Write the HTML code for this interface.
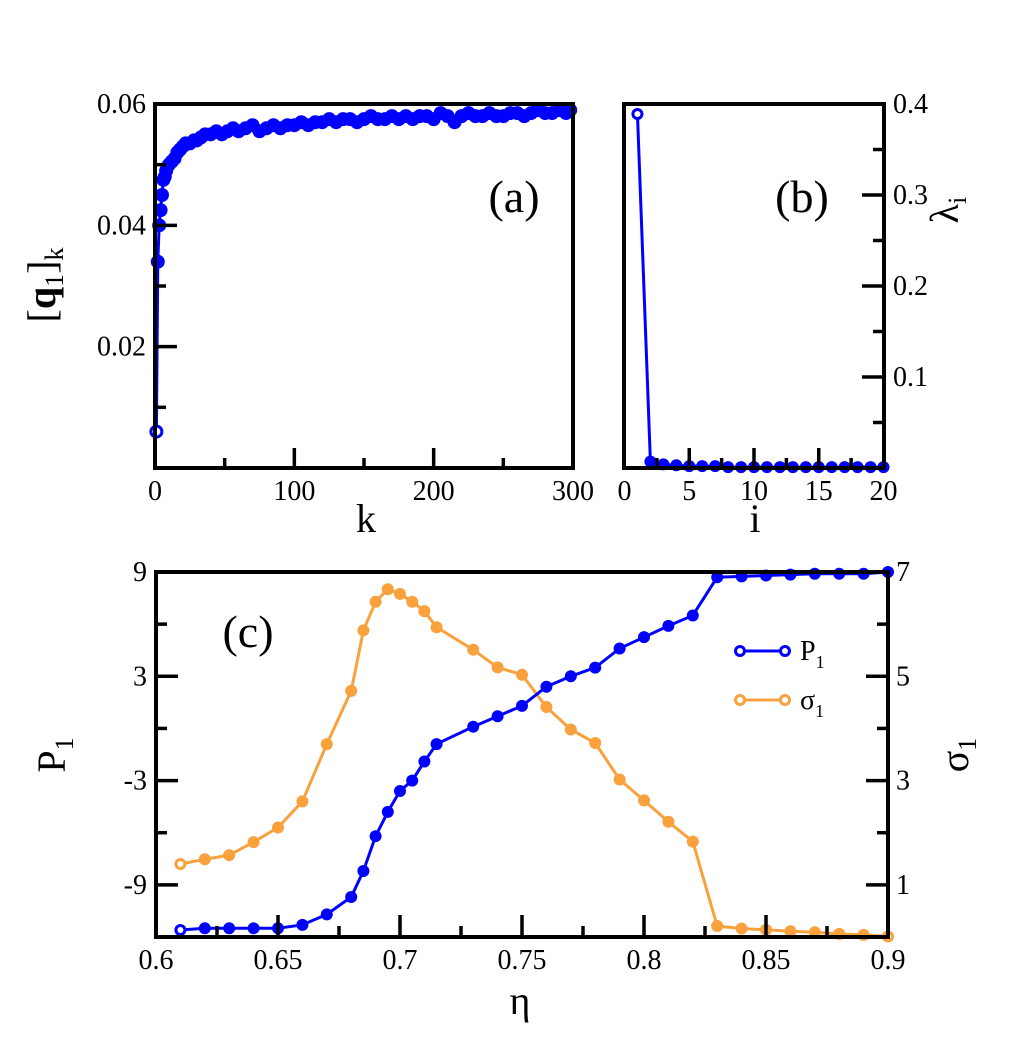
<!DOCTYPE html>
<html><head><meta charset="utf-8"><style>
body{margin:0;background:#fff}
svg{display:block;font-family:"Liberation Serif",serif}
</style></head><body>
<svg id="fig" width="1011" height="1050" viewBox="0 0 1011 1050"></svg>
<script>
// Panel (a) data
const aK=[1,2,3,4,5,6,7,8,10,12,14,16,18,20,22,25,28,30,33,36,40,44,48,52,56,60,65,70,75,80,85,90,95,100,105,110,115,120,125,130,135,140,145,150,155,160,165,170,175,180,185,190,195,200,205,210,215,220,225,230,235,240,245,250,255,260,265,270,275,280,285,290,295,298];
const aQ=[0.006,0.034,0.040,0.0425,0.045,0.0475,0.048,0.049,0.050,0.0505,0.051,0.052,0.0525,0.053,0.0535,0.0535,0.054,0.054,0.0545,0.055,0.055,0.0555,0.055,0.0555,0.056,0.0555,0.056,0.0565,0.0555,0.056,0.0565,0.056,0.0565,0.0565,0.057,0.0565,0.057,0.057,0.0575,0.057,0.0575,0.0575,0.057,0.0575,0.058,0.0575,0.0575,0.058,0.0575,0.058,0.0575,0.058,0.058,0.0575,0.0585,0.058,0.057,0.058,0.0585,0.058,0.058,0.0585,0.058,0.058,0.0585,0.0585,0.058,0.0585,0.059,0.0585,0.0585,0.059,0.0585,0.059];
// Panel (b) data
const bI=[1,2,3,4,5,6,7,8,9,10,11,12,13,14,15,16,17,18,19,20];
const bL=[0.389,0.007,0.004,0.003,0.002,0.002,0.002,0.001,0.001,0.001,0.001,0.001,0.001,0.001,0.001,0.001,0.001,0.001,0.001,0.001];
// Panel (c) data
const cEta=[0.61,0.62,0.63,0.64,0.65,0.66,0.67,0.68,0.685,0.69,0.695,0.70,0.705,0.71,0.715,0.73,0.74,0.75,0.76,0.77,0.78,0.79,0.80,0.81,0.82,0.83,0.84,0.85,0.86,0.87,0.88,0.89,0.90];
const cP=[-11.6,-11.5,-11.5,-11.5,-11.5,-11.3,-10.7,-9.7,-8.2,-6.2,-4.8,-3.6,-3.0,-1.9,-0.9,0.1,0.7,1.3,2.4,3.0,3.5,4.6,5.25,5.9,6.5,8.7,8.75,8.8,8.85,8.9,8.9,8.9,9.0];
const cS=[1.4,1.49,1.57,1.82,2.1,2.6,3.7,4.72,5.88,6.43,6.67,6.58,6.43,6.25,5.94,5.51,5.17,5.03,4.41,3.98,3.72,3.02,2.62,2.21,1.83,0.21,0.16,0.14,0.11,0.09,0.06,0.04,0.01];
const aXTicks=[0,100,200,300], aYTicks=[0.02,0.04,0.06], aYLabels=["0.02","0.04","0.06"];
const bXTicks=[0,5,10,15,20], bYTicks=[0.1,0.2,0.3,0.4], bYLabels=["0.1","0.2","0.3","0.4"];
const cXTicks=[0.6,0.65,0.7,0.75,0.8,0.85,0.9], cXLabels=["0.6","0.65","0.7","0.75","0.8","0.85","0.9"];
const cLTicks=[9,3,-3,-9], cRTicks=[7,5,3,1];

const svg=document.getElementById('fig');
const NS='http://www.w3.org/2000/svg';
function mk(tag,attrs,parent){const e=document.createElementNS(NS,tag);for(const k in attrs)e.setAttribute(k,attrs[k]);(parent||svg).appendChild(e);return e;}
function txt(s,x,y,size,anchor,name,parent){const t=mk('text',{x:x,y:y,'font-size':size,'text-anchor':anchor||'middle'},parent);t.textContent=s;


return t;}
const BLUE='#0000ff', ORANGE='#f9a13c';

const ax=v=>155+(v/300)*418, ay=v=>468-(v/0.06)*364;
const bx=v=>624.5+(v/20)*259, by=v=>468-(v/0.4)*364;
const cx=v=>156+((v-0.6)/0.3)*732, cyL=v=>937-((v+12)/21)*365, cyR=v=>937-(v/7)*365;

function series(xs,ys,fx,fy,color,r,name,hollowFirst,hollowLast){
  const g=mk('g',{});
  
  
  const pts=xs.map((x,i)=>fx(x)+','+fy(ys[i])).join(' ');
  mk('polyline',{points:pts,fill:'none',stroke:color,'stroke-width':3},g);
  xs.forEach((x,i)=>{
    const hollow=(hollowFirst&&i===0)||(hollowLast&&i===xs.length-1);
    const c=mk('circle',{cx:fx(x),cy:fy(ys[i]),r:hollow?r-1.5:r,fill:hollow?'#fff':color,stroke:color,'stroke-width':hollow?3:0},g);
    
    
  });
}
function frame(x0,y0,x1,y1,name){const r=mk('rect',{x:x0,y:y0,width:x1-x0,height:y1-y0,fill:'none',stroke:'#000','stroke-width':4});

}
function tick(x1,y1,x2,y2){mk('line',{x1:x1,y1:y1,x2:x2,y2:y2,stroke:'#000','stroke-width':3.5});}

// ---------- Panel a ----------
series(aK,aQ,ax,ay,BLUE,7,'series-q1',true,false);
frame(155,104,573,468,'panel-a-frame');
aXTicks.forEach(v=>{tick(ax(v),468,ax(v),448);txt(String(v),ax(v),500,28,'middle','a-x-tick-label');});
[50,150,250].forEach(v=>tick(ax(v),468,ax(v),458));
aYTicks.forEach((v,i)=>{tick(155,ay(v),177,ay(v));txt(aYLabels[i],146,ay(v)+9,28,'end','a-y-tick-label');});
[0.01,0.03,0.05].forEach(v=>tick(155,ay(v),166,ay(v)));
txt('(a)',514,212,46,'middle','panel-a-label');
txt('k',366,532,40,'middle','a-x-axis-title');
{const t=txt('',0,0,40,'middle','a-y-axis-title');t.setAttribute('transform','translate(55,285) rotate(-90)');
t.innerHTML='[<tspan font-weight="bold">q</tspan><tspan font-size="26" dy="8">1</tspan><tspan dy="-8">]</tspan><tspan font-size="26" dy="8">k</tspan>';}

// ---------- Panel b ----------
series(bI,bL,bx,by,BLUE,6,'series-lambda',true,false);
frame(624,104,884,468,'panel-b-frame');
bXTicks.forEach(v=>{if(v>0&&v<20)tick(bx(v),468,bx(v),448);txt(String(v),bx(v),500,28,'middle','b-x-tick-label');});
[2.5,7.5,12.5,17.5].forEach(v=>tick(bx(v),468,bx(v),458));
bYTicks.forEach((v,i)=>{if(v<0.4)tick(884,by(v),862,by(v));txt(bYLabels[i],893,by(v)+9,28,'start','b-y-tick-label');});
[0.05,0.15,0.25,0.35].forEach(v=>tick(884,by(v),873,by(v)));
txt('(b)',802,212,46,'middle','panel-b-label');
txt('i',755,532,40,'middle','b-x-axis-title');
{const t=txt('',0,0,40,'middle','b-y-axis-title');t.setAttribute('transform','translate(958,210) rotate(-90)');
t.innerHTML='λ<tspan font-size="26" dy="8">i</tspan>';}

// ---------- Panel c ----------
series(cEta,cS,cx,cyR,ORANGE,6,'series-sigma1',true,true);
series(cEta,cP,cx,cyL,BLUE,6,'series-p1',true,false);
frame(156,572,888,937,'panel-c-frame');
cXTicks.forEach((v,i)=>{tick(cx(v),937,cx(v),915);txt(cXLabels[i],cx(v),969,28,'middle','c-x-tick-label');});
[0.625,0.675,0.725,0.775,0.825,0.875].forEach(v=>tick(cx(v),937,cx(v),926));
cLTicks.forEach(v=>{tick(156,cyL(v),178,cyL(v));txt(String(v),147,cyL(v)+9,28,'end','c-left-tick-label');});
[6,0,-6].forEach(v=>tick(156,cyL(v),167,cyL(v)));
cRTicks.forEach(v=>{tick(888,cyR(v),866,cyR(v));txt(String(v),896,cyR(v)+9,28,'start','c-right-tick-label');});
[6,4,2].forEach(v=>tick(888,cyR(v),877,cyR(v)));
txt('(c)',248,647,46,'middle','panel-c-label');
txt('η',520,1014,40,'middle','c-x-axis-title');
{const t=txt('',0,0,40,'middle','c-left-axis-title');t.setAttribute('transform','translate(65,755) rotate(-90)');
t.innerHTML='P<tspan font-size="26" dy="8">1</tspan>';}
{const t=txt('',0,0,40,'middle','c-right-axis-title');t.setAttribute('transform','translate(968,755) rotate(-90)');
t.innerHTML='σ<tspan font-size="26" dy="8">1</tspan>';}
function legend(y,color,label,name){
  const g=mk('g',{});
  
  
  mk('line',{x1:740,y1:y,x2:785,y2:y,stroke:color,'stroke-width':3},g);
  mk('circle',{cx:740,cy:y,r:4.5,fill:'#fff',stroke:color,'stroke-width':3},g);
  mk('circle',{cx:785,cy:y,r:4.5,fill:'#fff',stroke:color,'stroke-width':3},g);
  const t=txt('',800,y+9,28,'start',name+'-label',g);t.innerHTML=label;
}
legend(651,BLUE,'P<tspan font-size="18" dy="8">1</tspan>','legend-p1');
legend(700,ORANGE,'σ<tspan font-size="18" dy="8">1</tspan>','legend-sigma1');
</script>
</body></html>
